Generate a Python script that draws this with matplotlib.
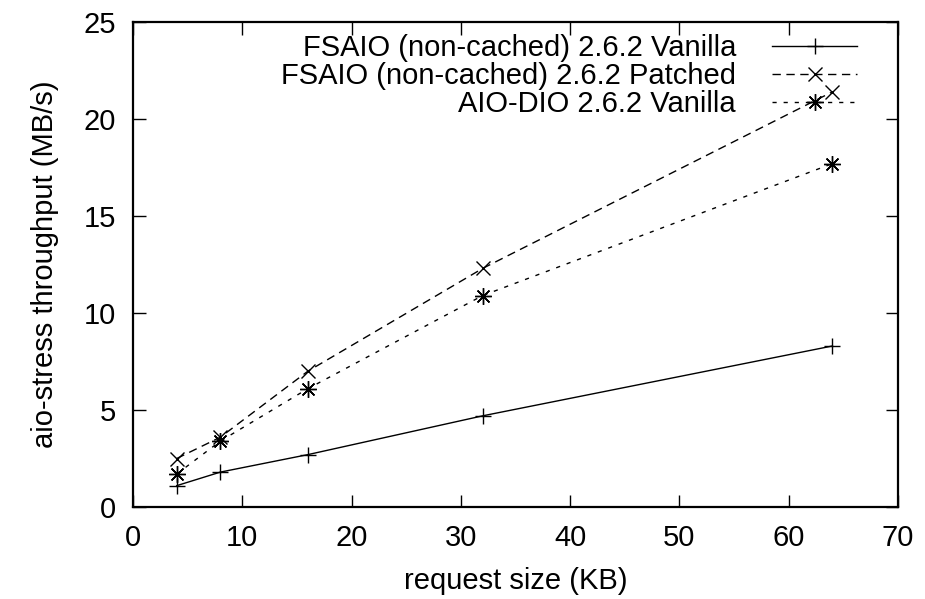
import matplotlib
matplotlib.use("Agg")
import matplotlib.pyplot as plt

plt.rcParams['font.family'] = ['Liberation Sans', 'DejaVu Sans']

request_kb = [4, 8, 16, 32, 64]
fsaio_vanilla = [1.1, 1.8, 2.7, 4.7, 8.3]
fsaio_patched = [2.5, 3.6, 7.0, 12.3, 21.4]
aiodio_vanilla = [1.7, 3.4, 6.1, 10.9, 17.7]

labels = ["FSAIO (non-cached) 2.6.2 Vanilla",
          "FSAIO (non-cached) 2.6.2 Patched",
          "AIO-DIO 2.6.2 Vanilla"]
xticks = [0, 10, 20, 30, 40, 50, 60, 70]
yticks = [0, 5, 10, 15, 20, 25]

fs = 21
fig = plt.figure(figsize=(9.25, 5.99), dpi=100)
ax = fig.add_axes([133/925, 1-507/599, (898-133)/925, (507-22)/599])

asterisk = (8, 2, 0)
ax.plot(request_kb, fsaio_vanilla, color='black', lw=1.0, ls='-',
        marker='+', ms=11, mew=1.0, label=labels[0])
ax.plot(request_kb, fsaio_patched, color='black', lw=1.0, ls=(0, (6, 4)),
        marker='x', ms=10, mew=1.0, label=labels[1])
ax.plot(request_kb, aiodio_vanilla, color='black', lw=1.0, ls=(0, (3, 5)),
        marker=asterisk, ms=12, mew=1.0, label=labels[2])

ax.set_xlim(0, 70)
ax.set_ylim(0, 25)
ax.set_xticks(xticks)
ax.set_yticks(yticks)
ax.tick_params(direction='in', length=9, width=1.0, top=True, right=True,
               labelsize=fs, pad=12)
for s in ax.spines.values():
    s.set_linewidth(1.6)
ax.set_xlabel("request size (KB)", fontsize=fs, labelpad=11)
ax.set_ylabel("aio-stress throughput (MB/s)", fontsize=fs, labelpad=18)

leg = ax.legend(loc='upper right', bbox_to_anchor=((857-133)/765, (507-34)/485),
                frameon=False, markerfirst=False,
                fontsize=fs, handlelength=2.9, handletextpad=1.25,
                labelspacing=0.0, borderaxespad=0.0, borderpad=0.0)

fig.savefig("out.png", dpi=100)
